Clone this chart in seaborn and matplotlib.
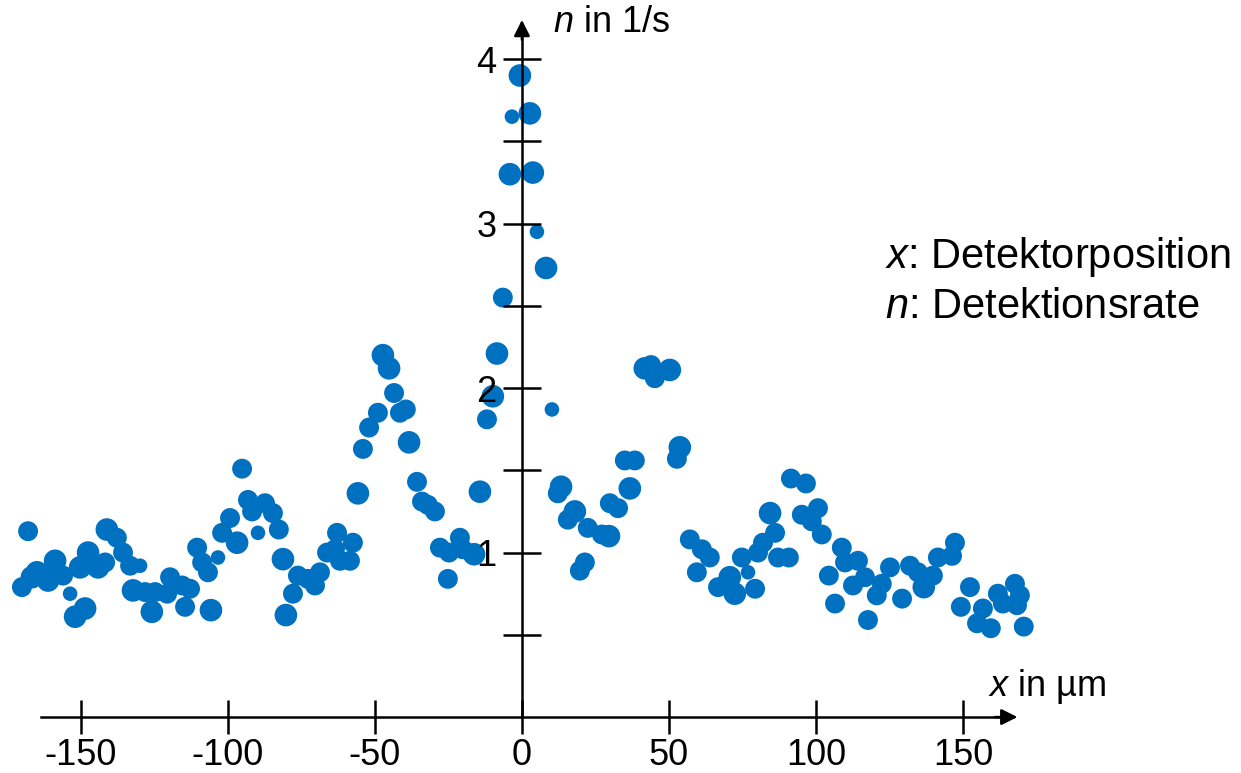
import matplotlib
matplotlib.use("Agg")
import matplotlib.pyplot as plt
import seaborn as sns
import pandas as pd

# ---- data ----
x_um = [-170.1, -168.0, -166.7, -165.0, -161.2, -159.5, -158.8, -156.1, -153.7, -152.0,
        -148.6, -150.3, -147.6, -144.2, -141.8, -141.2, -137.8, -135.7, -133.3, -129.9,
        -132.3, -128.2, -124.8, -125.9, -120.7, -119.7, -115.6, -112.9, -114.6, -110.5,
        -108.8, -106.8, -105.8, -103.4, -102.0, -99.3, -96.9, -95.2, -93.2, -91.8,
        -89.8, -87.4, -84.7, -82.7, -81.3, -80.3, -77.9, -76.2, -72.8, -70.4,
        -68.7, -66.3, -63.6, -62.9, -61.9, -58.5, -57.5, -55.8, -54.1, -52.0,
        -49.0, -47.3, -45.2, -43.5, -41.5, -39.5, -38.4, -35.7, -34.0, -32.0,
        -29.6, -27.9, -24.8, -25.2, -21.1, -20.1, -16.3, -14.3, -11.9, -9.9,
        -8.5, -6.5, -4.1, -3.4, -0.7, 2.7, 3.7, 5.1, 8.2, 10.2,
        12.2, 13.3, 15.6, 18.0, 19.7, 21.4, 22.4, 27.2, 29.6, 29.9,
        32.7, 35.0, 36.7, 38.4, 41.8, 45.2, 43.9, 50.3, 52.7, 53.7,
        57.1, 59.5, 61.2, 63.9, 66.7, 70.7, 72.4, 74.8, 76.9, 79.3,
        80.3, 82.0, 84.4, 86.1, 87.1, 90.8, 91.5, 96.6, 95.2, 98.6,
        100.7, 102.0, 104.4, 106.5, 108.8, 109.9, 112.6, 114.3, 116.7, 117.7,
        120.7, 122.4, 125.2, 129.3, 132.0, 134.7, 136.7, 139.8, 141.5, 146.3,
        147.3, 149.3, 152.4, 154.8, 156.8, 159.5, 161.9, 163.6, 167.7, 168.4,
        169.4, 170.7]
n_rate = [0.79, 1.13, 0.85, 0.88, 0.83, 0.88, 0.95, 0.86, 0.75, 0.61,
          0.66, 0.91, 1.00, 0.91, 0.94, 1.14, 1.09, 1.00, 0.92, 0.92,
          0.77, 0.76, 0.76, 0.64, 0.75, 0.85, 0.80, 0.78, 0.67, 1.03,
          0.94, 0.88, 0.65, 0.97, 1.12, 1.21, 1.06, 1.51, 1.32, 1.25,
          1.12, 1.30, 1.24, 1.14, 0.96, 0.62, 0.75, 0.86, 0.84, 0.80,
          0.88, 1.00, 1.02, 1.12, 0.95, 0.95, 1.06, 1.36, 1.63, 1.76,
          1.85, 2.20, 2.12, 1.97, 1.85, 1.87, 1.67, 1.43, 1.31, 1.29,
          1.25, 1.03, 1.00, 0.84, 1.09, 1.02, 0.99, 1.37, 1.81, 1.95,
          2.21, 2.55, 3.30, 3.65, 3.90, 3.67, 3.31, 2.95, 2.73, 1.87,
          1.36, 1.40, 1.20, 1.25, 0.89, 0.94, 1.15, 1.11, 1.10, 1.30,
          1.27, 1.56, 1.39, 1.56, 2.12, 2.06, 2.14, 2.11, 1.57, 1.64,
          1.08, 0.88, 1.02, 0.97, 0.79, 0.85, 0.75, 0.97, 0.88, 0.78,
          1.00, 1.06, 1.24, 1.12, 0.97, 0.97, 1.45, 1.42, 1.23, 1.19,
          1.27, 1.11, 0.86, 0.69, 1.03, 0.94, 0.80, 0.95, 0.85, 0.59,
          0.74, 0.81, 0.91, 0.72, 0.92, 0.88, 0.79, 0.86, 0.97, 0.98,
          1.06, 0.67, 0.79, 0.57, 0.66, 0.54, 0.75, 0.69, 0.81, 0.68,
          0.74, 0.55]
dot_size = ["M", "M", "L", "L", "L", "L", "L", "M", "S", "L",
            "L", "L", "L", "L", "M", "L", "M", "M", "M", "S",
            "L", "M", "M", "L", "M", "M", "M", "M", "M", "M",
            "M", "M", "L", "S", "M", "M", "L", "M", "M", "M",
            "S", "M", "M", "M", "L", "L", "M", "M", "M", "M",
            "M", "M", "M", "M", "M", "M", "M", "L", "M", "M",
            "M", "L", "L", "M", "M", "M", "L", "M", "M", "M",
            "M", "M", "M", "M", "M", "M", "L", "L", "M", "L",
            "L", "M", "L", "S", "L", "L", "L", "S", "L", "S",
            "M", "L", "M", "L", "M", "M", "M", "M", "L", "M",
            "M", "M", "L", "M", "L", "M", "M", "L", "M", "L",
            "M", "M", "M", "M", "M", "L", "L", "M", "S", "M",
            "M", "M", "L", "M", "M", "M", "M", "M", "M", "M",
            "M", "M", "M", "M", "M", "M", "M", "M", "M", "M",
            "M", "M", "M", "M", "M", "M", "L", "M", "M", "M",
            "M", "M", "M", "M", "M", "M", "M", "M", "M", "M",
            "M", "M"]

x_ticks = [-150, -100, -50, 0, 50, 100, 150]
y_ticks = [0.5, 1, 1.5, 2, 2.5, 3, 3.5, 4]
y_tick_labels = ["", "1", "", "2", "", "3", "", "4"]

df = pd.DataFrame({"x": x_um, "n": n_rate, "s": dot_size})

sns.set_style("white")
plt.rcParams["font.family"] = ["Liberation Sans", "DejaVu Sans"]
plt.rcParams["mathtext.fontset"] = "custom"
plt.rcParams["mathtext.rm"] = "Liberation Sans"
plt.rcParams["mathtext.it"] = "Liberation Sans:italic"
plt.rcParams["text.color"] = "black"

fig = plt.figure(figsize=(12.41, 7.73), dpi=100)
ax = fig.add_axes([0, 0, 1, 1])
ax.set_facecolor("white")

sns.scatterplot(data=df, x="x", y="n", size="s",
                sizes={"L": 265, "M": 205, "S": 110},
                color="#0070C0", linewidth=0, legend=False, ax=ax, zorder=1.5)

ax.set_xlim(-177.55, 244.6)
ax.set_ylim(-0.340, 4.359)
ax.set_axisbelow(False)

# axes through the origin
for side in ["top", "right"]:
    ax.spines[side].set_visible(False)
ax.spines["left"].set_position(("data", 0))
ax.spines["bottom"].set_position(("data", 0))
ax.spines["left"].set_bounds(0, 4.15)
ax.spines["bottom"].set_bounds(-163.6, 163)
for side in ["left", "bottom"]:
    ax.spines[side].set_linewidth(1.8)
    ax.spines[side].set_color("black")
    ax.spines[side].set_zorder(2.5)

# arrow heads
ax.annotate("", xy=(169.5, 0), xytext=(160, 0),
            arrowprops=dict(arrowstyle="-|>", mutation_scale=24, lw=1.8, color="black"))
ax.annotate("", xy=(0, 4.255), xytext=(0, 4.1),
            arrowprops=dict(arrowstyle="-|>", mutation_scale=24, lw=1.8, color="black"))

ax.set_xticks(x_ticks)
ax.set_xticklabels([str(v) for v in x_ticks])
ax.set_yticks(y_ticks)
ax.set_yticklabels(y_tick_labels)
ax.tick_params(axis="x", bottom=True, direction="inout", length=24, width=1.8, pad=3,
               labelsize=26, colors="black")
ax.tick_params(axis="y", left=True, direction="inout", length=27, width=1.8, pad=5,
               labelsize=26, colors="black")
ax.set_xlabel("")
ax.set_ylabel("")
ax.grid(False)

ax.text(10.5, 4.225, r"$n$ in 1/s", fontsize=26, ha="left", va="center", color="black")
ax.text(158.5, 0.188, r"$x$ in µm", fontsize=26, ha="left", va="center", color="black")
ax.text(123.5, 2.796, r"$x$: Detektorposition", fontsize=30, ha="left", va="center", color="black")
ax.text(123.5, 2.492, r"$n$: Detektionsrate", fontsize=30, ha="left", va="center", color="black")

fig.savefig("out.png", dpi=100, facecolor="white")
